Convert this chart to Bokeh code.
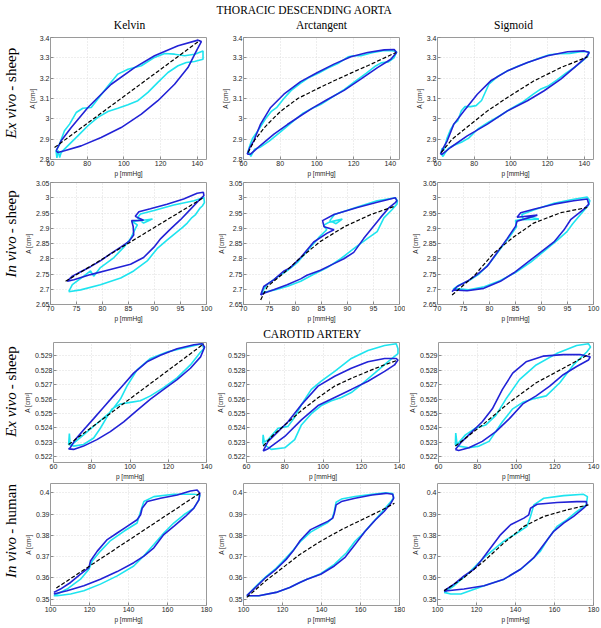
import math
from bokeh.plotting import figure
from bokeh.layouts import column, row
from bokeh.models import Range1d, FixedTicker, ColumnDataSource
from bokeh.embed import file_html
from bokeh.resources import INLINE
from bokeh.core.properties import value

# ---------------- titles ----------------
section_titles = ["THORACIC DESCENDING AORTA", "CAROTID ARTERY"]
col_titles = ["Kelvin", "Arctangent", "Sigmoid"]
row_titles = [("Ex vivo", "- sheep"), ("In vivo", "- sheep"), ("Ex vivo", "- sheep"), ("In vivo", "- human")]
x_label = "p [mmHg]"
y_label = "A [cm²]"

# ---------------- axes ----------------
r1_xlim = (60, 145); r1_ylim = (2.8, 3.4)
r2_xlim = (70, 100); r2_ylim = (2.65, 3.05)
r3_xlim = (60, 140); r3_ylim = (0.52159, 0.52993)
r4_xlim = (100, 180); r4_ylim = (0.3471, 0.4043)

r1_xticks = [60, 80, 100, 120, 140]
r1_yticks = [2.8, 2.9, 3.0, 3.1, 3.2, 3.3, 3.4]
r1_ylabels = ["2.8", "2.9", "3", "3.1", "3.2", "3.3", "3.4"]
r2_xticks = [70, 75, 80, 85, 90, 95, 100]
r2_yticks = [2.65, 2.7, 2.75, 2.8, 2.85, 2.9, 2.95, 3.0, 3.05]
r2_ylabels = ["2.65", "2.7", "2.75", "2.8", "2.85", "2.9", "2.95", "3", "3.05"]
r3_xticks = [60, 80, 100, 120, 140]
r3_yticks = [0.522, 0.523, 0.524, 0.525, 0.526, 0.527, 0.528, 0.529]
r3_ylabels = ["0.522", "0.523", "0.524", "0.525", "0.526", "0.527", "0.528", "0.529"]
r4_xticks = [100, 120, 140, 160, 180]
r4_yticks = [0.35, 0.36, 0.37, 0.38, 0.39, 0.4]
r4_ylabels = ["0.35", "0.36", "0.37", "0.38", "0.39", "0.4"]

# ---------------- row 1: thoracic aorta, ex vivo sheep ----------------
r1_kel_cyan_p = [63.0, 64.9, 67.6, 70.4, 74.0, 77.6, 82.2, 85.8, 91.3, 96.7, 102.2, 109.5, 116.7, 122.2, 127.6, 133.1, 138.5, 143.1,
                 143.1, 138.5, 134.0, 129.5, 124.0, 118.5, 113.1, 107.6, 102.2, 96.7, 91.3, 85.8, 80.4, 74.9, 71.3, 67.6, 65.8, 65.0, 64.2, 63.5, 63.0]
r1_kel_cyan_a = [2.843, 2.875, 2.941, 2.974, 3.031, 3.052, 3.056, 3.097, 3.162, 3.220, 3.244, 3.261, 3.302, 3.321, 3.318, 3.310, 3.318, 3.334,
                 3.293, 3.282, 3.277, 3.261, 3.228, 3.179, 3.130, 3.089, 3.069, 3.052, 3.036, 3.007, 2.966, 2.916, 2.884, 2.851, 2.834, 2.810, 2.845, 2.808, 2.843]
r1_kel_blue_p = [63.1, 65.8, 71.3, 80.4, 93.1, 105.8, 116.7, 129.5, 140.4, 142.2, 139.5, 134.9, 127.6, 118.5, 109.5, 98.5, 87.6, 76.7, 67.6, 64.0, 63.1]
r1_kel_blue_a = [2.843, 2.892, 2.957, 3.056, 3.170, 3.252, 3.310, 3.359, 3.387, 3.380, 3.334, 3.252, 3.170, 3.089, 3.023, 2.957, 2.908, 2.867, 2.843, 2.834, 2.843]
r1_kel_dash_p = [62.2, 141.3]
r1_kel_dash_a = [2.859, 3.385]

r1_atn_cyan_p = [62.2, 63.5, 65.0, 67.0, 69.5, 72.0, 75.0, 78.0, 82.0, 86.0, 91.0, 96.0, 101.0, 106.0, 112.0, 117.0, 120.0, 124.0, 130.0, 136.0, 141.0, 143.5,
                 142.0, 139.0, 135.0, 132.0, 127.0, 121.0, 115.0, 108.0, 102.0, 97.0, 92.0, 86.0, 80.0, 74.0, 69.0, 66.0, 64.0, 63.0, 62.2]
r1_atn_cyan_a = [2.830, 2.870, 2.905, 2.930, 2.965, 3.000, 3.035, 3.055, 3.100, 3.140, 3.175, 3.205, 3.225, 3.250, 3.275, 3.305, 3.310, 3.310, 3.325, 3.335, 3.335, 3.330,
                 3.300, 3.280, 3.275, 3.260, 3.225, 3.185, 3.145, 3.105, 3.070, 3.050, 3.025, 2.980, 2.935, 2.890, 2.860, 2.850, 2.815, 2.835, 2.830]
r1_atn_blue_p = [62.0, 63.5, 65.6, 69.3, 74.8, 82.0, 91.1, 100.3, 109.3, 118.5, 127.6, 136.7, 142.1, 143.4,
                 140.3, 133.0, 123.9, 114.8, 105.7, 98.0, 91.1, 83.9, 76.6, 69.3, 63.8, 62.0]
r1_atn_blue_a = [2.826, 2.860, 2.892, 2.974, 3.056, 3.121, 3.183, 3.228, 3.269, 3.305, 3.326, 3.339, 3.341, 3.326,
                 3.293, 3.252, 3.195, 3.140, 3.095, 3.055, 3.015, 2.972, 2.925, 2.870, 2.826, 2.826]
r1_atn_dash_p = [62.5, 66.0, 71.4, 76.0, 80.5, 89.6, 100.0, 109.3, 118.5, 127.6, 135.0, 143.0]
r1_atn_dash_a = [2.834, 2.895, 2.957, 3.000, 3.039, 3.100, 3.147, 3.187, 3.225, 3.261, 3.292, 3.326]

r1_sig_cyan_p = [61.8, 62.5, 63.5, 65.0, 67.0, 69.0, 71.0, 73.0, 75.0, 78.0, 81.0, 84.0, 88.0, 93.0, 98.0, 104.0, 110.0, 116.0, 121.0, 126.0, 132.0, 138.0, 142.5,
                 142.0, 139.0, 135.0, 130.0, 125.0, 120.0, 116.0, 112.0, 106.0, 100.0, 94.0, 88.0, 82.0, 77.0, 73.0, 69.0, 66.0, 64.0, 63.0, 61.8]
r1_sig_cyan_a = [2.830, 2.855, 2.845, 2.900, 2.945, 2.975, 2.990, 3.040, 3.060, 3.060, 3.065, 3.090, 3.170, 3.210, 3.235, 3.260, 3.280, 3.300, 3.315, 3.320, 3.322, 3.330, 3.330,
                 3.310, 3.285, 3.255, 3.225, 3.190, 3.160, 3.145, 3.120, 3.080, 3.050, 3.015, 2.985, 2.950, 2.905, 2.885, 2.870, 2.855, 2.830, 2.815, 2.830]
r1_sig_blue_p = [61.6, 63.3, 65.3, 68.9, 74.4, 81.7, 89.0, 98.1, 109.0, 120.0, 130.9, 140.0, 142.7,
                 140.9, 134.5, 127.2, 118.1, 109.0, 98.1, 87.2, 76.2, 67.1, 62.6, 61.6]
r1_sig_blue_a = [2.826, 2.860, 2.892, 2.974, 3.039, 3.121, 3.187, 3.236, 3.277, 3.310, 3.330, 3.334, 3.326,
                 3.302, 3.252, 3.195, 3.138, 3.089, 3.039, 2.974, 2.916, 2.859, 2.826, 2.826]
r1_sig_dash_p = [62.0, 68.0, 76.2, 87.2, 98.1, 112.6, 127.2, 141.8]
r1_sig_dash_a = [2.834, 2.900, 2.960, 3.039, 3.105, 3.187, 3.252, 3.305]

# ---------------- row 2: thoracic aorta, in vivo sheep ----------------
r2_kel_cyan_p = [73.5, 74.2, 76.4, 77.7, 78.3, 79.6, 82.2, 84.1, 85.4, 86.3, 86.7, 85.7, 88.6, 89.6, 87.9, 86.7, 87.3, 89.9, 93.7, 97.6, 99.5,
                 99.6, 99.2, 98.8, 97.9, 97.2, 96.3, 95.4, 94.4, 92.4, 90.5, 88.6, 86.0, 83.5, 79.6, 75.8, 73.5]
r2_kel_cyan_a = [2.692, 2.715, 2.743, 2.760, 2.743, 2.771, 2.804, 2.838, 2.866, 2.898, 2.911, 2.922, 2.928, 2.930, 2.917, 2.934, 2.947, 2.958, 2.976, 2.990, 3.001,
                 2.984, 2.973, 2.967, 2.945, 2.935, 2.917, 2.903, 2.889, 2.861, 2.833, 2.793, 2.760, 2.737, 2.715, 2.698, 2.692]
r2_kel_blue_p = [73.2, 74.2, 76.1, 77.7, 79.6, 81.5, 83.5, 85.1, 86.0, 85.9, 85.6, 87.9, 86.3, 87.0, 89.2, 92.4, 95.6, 98.2, 99.4, 99.5,
                 98.8, 96.9, 95.0, 93.1, 91.2, 89.9, 87.9, 85.4, 81.5, 77.7, 74.5, 73.2]
r2_kel_blue_a = [2.726, 2.743, 2.760, 2.774, 2.793, 2.816, 2.838, 2.857, 2.878, 2.906, 2.925, 2.926, 2.939, 2.954, 2.964, 2.979, 2.996, 3.015, 3.018, 3.007,
                 2.996, 2.962, 2.928, 2.898, 2.866, 2.838, 2.804, 2.782, 2.765, 2.748, 2.731, 2.726]
r2_kel_dash_p = [72.9, 99.5]
r2_kel_dash_a = [2.726, 3.001]

r2_atn_cyan_p = [73.5, 74.5, 76.5, 78.5, 80.5, 82.5, 84.5, 86.0, 85.4, 86.5, 89.0, 87.8, 86.6, 87.5, 91.9, 95.7, 99.2, 99.6,
                 99.5, 98.5, 97.0, 95.7, 93.8, 91.2, 88.7, 86.1, 83.5, 81.0, 78.5, 76.0, 74.0, 73.5]
r2_atn_cyan_a = [2.690, 2.715, 2.740, 2.762, 2.790, 2.830, 2.870, 2.895, 2.910, 2.920, 2.930, 2.915, 2.925, 2.945, 2.970, 2.990, 3.000, 2.990,
                 2.979, 2.960, 2.934, 2.889, 2.866, 2.833, 2.800, 2.771, 2.749, 2.726, 2.710, 2.698, 2.690, 2.690]
r2_atn_blue_p = [73.3, 73.9, 75.8, 77.8, 79.0, 81.0, 83.5, 86.1, 87.4, 85.5, 85.2, 87.4, 91.9, 95.7, 99.2, 99.5,
                 99.2, 98.0, 96.3, 94.7, 93.1, 91.2, 89.3, 87.4, 84.8, 82.2, 81.0, 78.4, 75.8, 73.9, 73.3]
r2_atn_blue_a = [2.681, 2.709, 2.731, 2.760, 2.771, 2.804, 2.855, 2.884, 2.895, 2.905, 2.925, 2.945, 2.968, 2.985, 3.000, 2.990,
                 2.984, 2.968, 2.934, 2.900, 2.866, 2.821, 2.800, 2.784, 2.762, 2.746, 2.734, 2.715, 2.698, 2.687, 2.681]
r2_atn_dash_p = [73.3, 74.6, 77.8, 81.0, 84.8, 89.6, 94.5, 99.2]
r2_atn_dash_a = [2.665, 2.709, 2.754, 2.804, 2.857, 2.907, 2.945, 2.973]

r2_sig_cyan_p = [73.0, 74.0, 76.0, 78.0, 80.0, 82.0, 84.0, 85.2, 85.0, 88.0, 89.5, 86.5, 86.2, 88.5, 92.4, 96.2, 98.8, 99.3,
                 99.0, 97.5, 96.0, 94.9, 93.0, 90.5, 88.0, 85.0, 82.0, 79.0, 76.0, 73.5, 73.0]
r2_sig_cyan_a = [2.700, 2.712, 2.728, 2.750, 2.785, 2.830, 2.875, 2.905, 2.925, 2.935, 2.930, 2.928, 2.945, 2.960, 2.982, 2.995, 3.002, 2.990,
                 2.975, 2.945, 2.915, 2.889, 2.860, 2.825, 2.790, 2.755, 2.728, 2.708, 2.698, 2.702, 2.700]
r2_sig_blue_p = [72.8, 73.8, 75.7, 77.6, 79.6, 81.5, 83.4, 85.0, 85.3, 89.2, 85.3, 86.0, 88.5, 92.4, 96.2, 98.8, 99.1,
                 98.1, 95.6, 94.3, 92.4, 89.8, 87.3, 84.7, 82.1, 78.9, 75.7, 73.1, 72.8]
r2_sig_blue_a = [2.692, 2.709, 2.726, 2.748, 2.776, 2.821, 2.866, 2.906, 2.923, 2.943, 2.936, 2.951, 2.962, 2.979, 2.990, 2.996, 2.979,
                 2.962, 2.928, 2.894, 2.855, 2.821, 2.788, 2.754, 2.726, 2.703, 2.695, 2.698, 2.692]
r2_sig_dash_p = [72.8, 77.0, 80.8, 84.7, 88.5, 93.7, 98.8]
r2_sig_dash_a = [2.681, 2.743, 2.818, 2.872, 2.917, 2.951, 2.968]

# ---------------- row 3: carotid, ex vivo sheep ----------------
r3_kel_cyan_p = [67.9, 68.3, 68.7, 69.6, 75.7, 82.7, 89.7, 95.0, 98.4, 103.7, 110.7, 119.4, 129.9, 137.7, 138.6,
                 136.9, 131.6, 124.6, 117.6, 110.7, 105.4, 100.2, 95.0, 90.6, 88.0, 84.5, 81.0, 75.7, 70.5, 67.9]
r3_kel_cyan_a = [0.52284, 0.52360, 0.52290, 0.52284, 0.52351, 0.52430, 0.52509, 0.52600, 0.52690, 0.52803, 0.52882, 0.52927, 0.52961, 0.52984, 0.52950,
                 0.52927, 0.52837, 0.52747, 0.52679, 0.52622, 0.52588, 0.52577, 0.52566, 0.52532, 0.52476, 0.52397, 0.52329, 0.52284, 0.52273, 0.52284]
r3_kel_blue_p = [68.7, 71.4, 75.7, 81.0, 86.2, 91.4, 96.7, 101.9, 108.9, 115.9, 124.6, 133.4, 137.7, 139.0,
                 136.9, 131.6, 124.6, 117.6, 110.7, 103.7, 96.7, 89.7, 82.7, 75.7, 70.5, 67.9, 68.7]
r3_kel_blue_a = [0.52261, 0.52318, 0.52385, 0.52464, 0.52543, 0.52622, 0.52701, 0.52780, 0.52859, 0.52905, 0.52950, 0.52977, 0.52984, 0.52961,
                 0.52893, 0.52814, 0.52735, 0.52667, 0.52600, 0.52521, 0.52442, 0.52374, 0.52318, 0.52273, 0.52250, 0.52254, 0.52261]
r3_kel_dash_p = [67.9, 138.6]
r3_kel_dash_a = [0.52284, 0.52984]

r3_atn_cyan_p = [68.5, 68.7, 69.3, 71.3, 76.5, 81.7, 85.0, 88.7, 93.9, 99.1, 106.1, 114.8, 123.5, 132.2, 138.3, 139.2,
                 139.2, 133.9, 127.0, 120.0, 114.8, 109.6, 104.4, 99.1, 93.9, 88.7, 85.2, 80.0, 72.9, 68.5]
r3_atn_cyan_a = [0.52290, 0.52351, 0.52300, 0.52318, 0.52397, 0.52410, 0.52470, 0.52560, 0.52667, 0.52724, 0.52792, 0.52882, 0.52938, 0.52972, 0.52984, 0.52950,
                 0.52916, 0.52859, 0.52780, 0.52701, 0.52645, 0.52611, 0.52588, 0.52555, 0.52498, 0.52420, 0.52318, 0.52261, 0.52250, 0.52290]
r3_atn_blue_p = [68.7, 71.3, 76.5, 81.7, 88.7, 97.4, 106.1, 114.8, 123.5, 132.2, 138.3, 139.2,
                 137.4, 132.2, 123.5, 114.8, 106.1, 97.4, 88.7, 80.0, 71.3, 68.7]
r3_atn_blue_a = [0.52239, 0.52306, 0.52374, 0.52442, 0.52560, 0.52690, 0.52758, 0.52814, 0.52859, 0.52882, 0.52882, 0.52871,
                 0.52837, 0.52792, 0.52724, 0.52667, 0.52611, 0.52555, 0.52455, 0.52340, 0.52255, 0.52239]
r3_atn_dash_p = [68.7, 74.0, 80.0, 88.7, 97.0, 106.1, 115.0, 123.5, 131.0, 139.2]
r3_atn_dash_a = [0.52273, 0.52350, 0.52419, 0.52520, 0.52605, 0.52690, 0.52745, 0.52792, 0.52832, 0.52871]

r3_sig_cyan_p = [68.7, 68.9, 69.6, 73.9, 79.1, 84.3, 89.6, 94.8, 101.8, 110.4, 120.9, 131.3, 137.4, 138.5,
                 136.5, 129.6, 122.6, 115.6, 108.7, 103.5, 98.3, 93.0, 86.1, 80.9, 75.7, 70.4, 68.7]
r3_sig_cyan_a = [0.52280, 0.52363, 0.52284, 0.52351, 0.52397, 0.52419, 0.52487, 0.52600, 0.52735, 0.52837, 0.52916, 0.52972, 0.52984, 0.52961,
                 0.52927, 0.52837, 0.52713, 0.52622, 0.52600, 0.52577, 0.52532, 0.52442, 0.52306, 0.52273, 0.52261, 0.52273, 0.52280]
r3_sig_blue_p = [68.7, 72.2, 77.4, 82.6, 87.8, 93.0, 98.3, 105.2, 113.9, 124.4, 133.1, 138.3,
                 137.4, 131.3, 124.4, 117.4, 110.4, 103.5, 96.6, 89.6, 82.6, 75.7, 70.4, 68.7]
r3_sig_blue_a = [0.52250, 0.52306, 0.52374, 0.52442, 0.52532, 0.52667, 0.52780, 0.52859, 0.52898, 0.52909, 0.52909, 0.52893,
                 0.52871, 0.52826, 0.52769, 0.52690, 0.52622, 0.52566, 0.52464, 0.52374, 0.52306, 0.52261, 0.52243, 0.52250]
r3_sig_dash_p = [68.7, 82.6, 96.6, 110.4, 124.4, 138.3]
r3_sig_dash_a = [0.52273, 0.52419, 0.52577, 0.52713, 0.52814, 0.52916]

# ---------------- row 4: carotid, in vivo human ----------------
r4_kel_cyan_p = [101.7, 108.5, 115.4, 119.7, 121.4, 125.6, 130.8, 137.6, 144.4, 146.2, 147.9, 153.0, 163.2, 173.5, 176.6,
                 176.1, 173.5, 168.4, 163.2, 158.1, 153.0, 148.7, 142.7, 134.2, 125.6, 117.1, 110.3, 103.4, 101.7]
r4_kel_cyan_a = [0.35170, 0.35480, 0.35944, 0.36409, 0.36796, 0.37260, 0.37755, 0.38189, 0.38576, 0.39118, 0.39582, 0.39814, 0.39923, 0.39923, 0.39892,
                 0.39659, 0.39272, 0.38963, 0.38576, 0.38111, 0.37570, 0.37120, 0.36563, 0.36100, 0.35712, 0.35400, 0.35248, 0.35170, 0.35170]
r4_kel_blue_p = [101.7, 105.1, 110.3, 115.4, 119.7, 120.5, 124.0, 129.1, 134.2, 139.3, 144.4, 146.2, 147.0, 149.6, 156.4, 165.0, 171.8, 175.2, 176.6,
                 176.1, 173.5, 169.2, 163.2, 158.1, 153.0, 147.9, 142.7, 134.2, 125.6, 117.1, 108.5, 101.7]
r4_kel_blue_a = [0.35325, 0.35480, 0.35789, 0.36176, 0.36486, 0.36796, 0.37260, 0.37802, 0.38111, 0.38421, 0.38731, 0.38963, 0.39272, 0.39582, 0.39737, 0.39892, 0.40077, 0.40124, 0.39969,
                 0.39659, 0.39272, 0.38885, 0.38421, 0.38034, 0.37415, 0.37028, 0.36718, 0.36300, 0.35944, 0.35635, 0.35403, 0.35250]
r4_kel_dash_p = [103.0, 176.5]
r4_kel_dash_a = [0.3553, 0.3997]

r4_atn_cyan_p = [101.7, 106.2, 111.4, 116.7, 121.9, 125.4, 129.1, 134.4, 139.6, 143.2, 145.5, 146.5, 147.5, 150.2, 157.2, 165.9, 173.0, 176.5, 177.0,
                 175.6, 171.2, 166.8, 161.5, 157.2, 152.8, 146.6, 139.6, 132.6, 128.9, 123.7, 116.7, 107.9, 101.7]
r4_atn_cyan_a = [0.35170, 0.35600, 0.36050, 0.36450, 0.36950, 0.37300, 0.37700, 0.38150, 0.38420, 0.38600, 0.38800, 0.39100, 0.39550, 0.39700, 0.39820, 0.39920, 0.39990, 0.39960, 0.39780,
                 0.39582, 0.39118, 0.38653, 0.38111, 0.37724, 0.37183, 0.36641, 0.36200, 0.35944, 0.35789, 0.35557, 0.35325, 0.35170, 0.35170]
r4_atn_blue_p = [101.7, 106.2, 111.4, 116.7, 121.9, 125.4, 129.1, 134.4, 139.6, 143.2, 145.8, 146.6, 147.5, 150.2, 157.2, 165.9, 173.0, 176.5, 177.0,
                 175.6, 172.1, 167.7, 162.4, 157.2, 151.9, 146.6, 139.6, 132.6, 128.9, 123.7, 116.7, 107.9, 101.7]
r4_atn_blue_a = [0.35170, 0.35557, 0.36022, 0.36409, 0.36873, 0.37260, 0.37760, 0.38266, 0.38498, 0.38653, 0.38808, 0.39040, 0.39427, 0.39582, 0.39737, 0.39892, 0.39969, 0.39923, 0.39737,
                 0.39505, 0.39118, 0.38731, 0.38189, 0.37570, 0.36950, 0.36563, 0.36176, 0.35944, 0.35789, 0.35557, 0.35325, 0.35170, 0.35170]
r4_atn_dash_p = [101.7, 111.4, 120.2, 128.9, 139.6, 150.2, 160.7, 171.2, 177.4]
r4_atn_dash_a = [0.35093, 0.35867, 0.36486, 0.37105, 0.37724, 0.38266, 0.38731, 0.39195, 0.39505]

r4_sig_cyan_p = [103.4, 108.5, 115.3, 120.4, 123.8, 128.9, 134.0, 140.8, 145.9, 147.7, 149.4, 154.5, 164.7, 174.9, 176.9,
                 176.3, 171.5, 166.4, 161.3, 157.0, 152.8, 147.7, 142.6, 134.1, 123.9, 112.0, 106.8, 103.4]
r4_sig_cyan_a = [0.35325, 0.35635, 0.36176, 0.36641, 0.36950, 0.37337, 0.37724, 0.38111, 0.38421, 0.38885, 0.39427, 0.39737, 0.39861, 0.39923, 0.39814,
                 0.39427, 0.39118, 0.38731, 0.38421, 0.37879, 0.37260, 0.36796, 0.36409, 0.35944, 0.35635, 0.35248, 0.35248, 0.35325]
r4_sig_blue_p = [103.4, 108.5, 113.6, 118.7, 122.2, 127.3, 132.4, 137.5, 144.3, 146.8, 147.7, 151.1, 161.3, 171.5, 176.3, 176.6,
                 174.9, 169.8, 164.7, 159.6, 154.5, 149.4, 142.6, 134.1, 123.9, 113.6, 105.1, 103.4]
r4_sig_blue_a = [0.35402, 0.35712, 0.36099, 0.36409, 0.36796, 0.37415, 0.38034, 0.38498, 0.38808, 0.38963, 0.39272, 0.39458, 0.39536, 0.39582, 0.39582, 0.39427,
                 0.39272, 0.38885, 0.38576, 0.38189, 0.37570, 0.36950, 0.36409, 0.35944, 0.35635, 0.35480, 0.35402, 0.35371]
r4_sig_dash_p = [103.4, 113.6, 123.9, 134.1, 144.3, 154.5, 166.4, 177.4]
r4_sig_dash_a = [0.35402, 0.36022, 0.36796, 0.37647, 0.38421, 0.38885, 0.39195, 0.39427]

# ---------------- styling / geometry ----------------
CYAN = "#1ee4ef"
BLUE = "#2222d6"
SANS = "Liberation Sans"
SERIF = "Liberation Serif"
FRAME_W, FRAME_H = 156, 122
LABEL_W = 20
COL_BORDERS = [(30, 7), (30, 6), (32, 8)]          # (left, right) per column
ROW_BORDERS = [(2, 21), (2, 21), (2, 18), (1, 21)]  # (top, bottom) per row
ROW_LABEL_SHIFT = [-4, -1, 4, -1]                   # junction shift of row labels (px)

rows_spec = [
    (r1_xlim, r1_ylim, r1_xticks, r1_yticks, r1_ylabels, [
        (r1_kel_cyan_p, r1_kel_cyan_a, r1_kel_blue_p, r1_kel_blue_a, r1_kel_dash_p, r1_kel_dash_a),
        (r1_atn_cyan_p, r1_atn_cyan_a, r1_atn_blue_p, r1_atn_blue_a, r1_atn_dash_p, r1_atn_dash_a),
        (r1_sig_cyan_p, r1_sig_cyan_a, r1_sig_blue_p, r1_sig_blue_a, r1_sig_dash_p, r1_sig_dash_a)]),
    (r2_xlim, r2_ylim, r2_xticks, r2_yticks, r2_ylabels, [
        (r2_kel_cyan_p, r2_kel_cyan_a, r2_kel_blue_p, r2_kel_blue_a, r2_kel_dash_p, r2_kel_dash_a),
        (r2_atn_cyan_p, r2_atn_cyan_a, r2_atn_blue_p, r2_atn_blue_a, r2_atn_dash_p, r2_atn_dash_a),
        (r2_sig_cyan_p, r2_sig_cyan_a, r2_sig_blue_p, r2_sig_blue_a, r2_sig_dash_p, r2_sig_dash_a)]),
    (r3_xlim, r3_ylim, r3_xticks, r3_yticks, r3_ylabels, [
        (r3_kel_cyan_p, r3_kel_cyan_a, r3_kel_blue_p, r3_kel_blue_a, r3_kel_dash_p, r3_kel_dash_a),
        (r3_atn_cyan_p, r3_atn_cyan_a, r3_atn_blue_p, r3_atn_blue_a, r3_atn_dash_p, r3_atn_dash_a),
        (r3_sig_cyan_p, r3_sig_cyan_a, r3_sig_blue_p, r3_sig_blue_a, r3_sig_dash_p, r3_sig_dash_a)]),
    (r4_xlim, r4_ylim, r4_xticks, r4_yticks, r4_ylabels, [
        (r4_kel_cyan_p, r4_kel_cyan_a, r4_kel_blue_p, r4_kel_blue_a, r4_kel_dash_p, r4_kel_dash_a),
        (r4_atn_cyan_p, r4_atn_cyan_a, r4_atn_blue_p, r4_atn_blue_a, r4_atn_dash_p, r4_atn_dash_a),
        (r4_sig_cyan_p, r4_sig_cyan_a, r4_sig_blue_p, r4_sig_blue_a, r4_sig_dash_p, r4_sig_dash_a)]),
]


def make_panel(ci, bt, bb, xlim, ylim, xticks, yticks, ylabels, curves):
    bl, br = COL_BORDERS[ci]
    p = figure(width=bl + FRAME_W + br, height=bt + FRAME_H + bb,
               x_range=Range1d(*xlim), y_range=Range1d(*ylim),
               min_border_left=bl, min_border_right=br, min_border_top=bt, min_border_bottom=bb,
               output_backend="svg", toolbar_location=None)
    cp, ca, bp, ba, dp, da = curves
    p.line(cp, ca, line_color=CYAN, line_width=1.6)
    p.line(bp, ba, line_color=BLUE, line_width=1.6)
    p.line(dp, da, line_color="black", line_width=1.2, line_dash="4 2")
    p.xaxis.ticker = FixedTicker(ticks=xticks)
    p.yaxis.ticker = FixedTicker(ticks=yticks)
    p.xaxis.major_label_overrides = {t: str(t) for t in xticks}
    p.yaxis.major_label_overrides = dict(zip(yticks, ylabels))
    p.xaxis.axis_label = x_label
    p.yaxis.axis_label = y_label
    for ax in (p.xaxis[0], p.yaxis[0]):
        ax.axis_line_color = None
        ax.major_tick_in = 3
        ax.major_tick_out = 0
        ax.major_tick_line_color = "#8c8c8c"
        ax.minor_tick_line_color = None
        ax.major_label_text_font = SANS
        ax.major_label_text_font_size = "7px"
        ax.major_label_text_color = "#262626"
        ax.major_label_standoff = 1
        ax.axis_label_text_font = SANS
        ax.axis_label_text_font_size = "6.5px"
        ax.axis_label_text_font_style = "normal"
        ax.axis_label_text_color = "#262626"
        ax.axis_label_standoff = 1
    p.grid.grid_line_color = "#dcdcdc"
    p.grid.grid_line_dash = "1 2"
    p.outline_line_color = "#9a9a9a"
    p.outline_line_width = 1
    p.outline_line_alpha = 1
    return p


def blank(width, height):
    f = figure(width=width, height=height, x_range=Range1d(0, width), y_range=Range1d(0, height),
               x_axis_type=None, y_axis_type=None, min_border=0,
               output_backend="svg", toolbar_location=None)
    f.grid.visible = False
    f.outline_line_color = None
    return f


def row_label(ri, height, bb):
    f = blank(LABEL_W, height)
    yj = bb + FRAME_H / 2 + ROW_LABEL_SHIFT[ri]
    it, rest = row_titles[ri]
    f.text(x=[LABEL_W / 2], y=[yj], text=[it], angle=math.pi / 2, text_align="right", text_baseline="middle",
           text_font=value(SERIF), text_font_size="15px", text_font_style="italic", text_color="black")
    f.text(x=[LABEL_W / 2], y=[yj + 3.8], text=[rest], angle=math.pi / 2, text_align="left", text_baseline="middle",
           text_font=value(SERIF), text_font_size="15px", text_color="black")
    return f


rows = []
for ri, (xlim, ylim, xt, yt, yl, curves) in enumerate(rows_spec):
    bt, bb = ROW_BORDERS[ri]
    h = bt + FRAME_H + bb
    figs = [make_panel(ci, bt, bb, xlim, ylim, xt, yt, yl, curves[ci]) for ci in range(3)]
    rows.append(row(row_label(ri, h, bb), *figs))

TOTAL_W = LABEL_W + sum(l + FRAME_W + r for l, r in COL_BORDERS)

h1 = blank(TOTAL_W, 35)
h1.text(x=[304], y=[25.5], text=[section_titles[0]], text_font=value(SERIF), text_font_size="11.5px",
        text_align="center", text_baseline="middle", text_color="black")
h1.text(x=[129, 321, 513], y=[11, 11, 11], text=col_titles, text_font=value(SERIF), text_font_size="11.5px",
        text_align="center", text_baseline="middle", text_color="black")

h2 = blank(TOTAL_W, 15)
h2.text(x=[312], y=[7], text=[section_titles[1]], text_font=value(SERIF), text_font_size="11.5px",
        text_align="center", text_baseline="middle", text_color="black")

layout = column(h1, rows[0], rows[1], h2, rows[2], rows[3])
open("out.html", "w").write(file_html(layout, INLINE))
